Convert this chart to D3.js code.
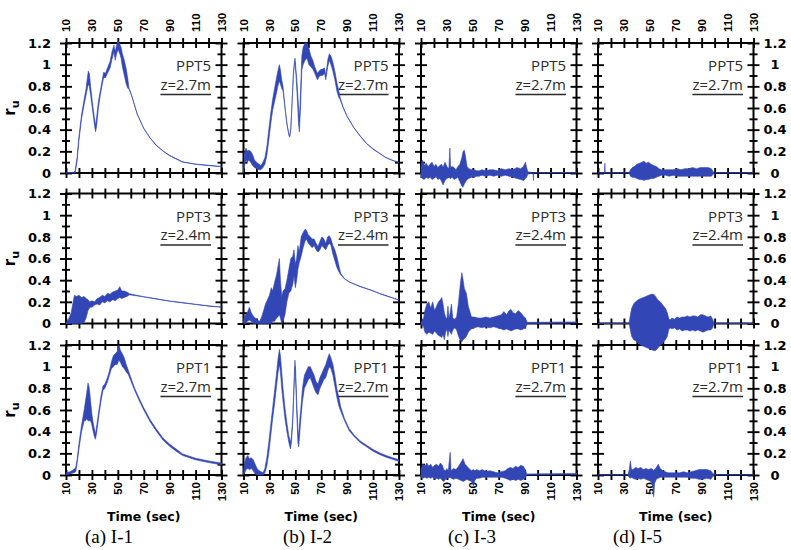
<!DOCTYPE html>
<html><head><meta charset="utf-8">
<script src="https://cdn.jsdelivr.net/npm/d3@7"></script>
<style>body{margin:0;background:#fff}</style>
</head><body><svg id="c" width="791" height="550"></svg>
<script>
// ---------- axis / label data ----------
const xTicks = [10,20,30,40,50,60,70,80,90,100,110,120,130];
const xLabels = [10,30,50,70,90,110,130];
const yMajor = [0,0.2,0.4,0.6,0.8,1.0,1.2];
const yMinor = [0.1,0.3,0.5,0.7,0.9,1.1];
const yLabels = ["0","0.2","0.4","0.6","0.8","1","1.2"];
const sensorNames = ["PPT5","PPT3","PPT1"];
const depthLabels = ["z=2.7m","z=2.4m","z=2.7m"];
const testCaptions = ["(a) I-1","(b) I-2","(c) I-3","(d) I-5"];

// ---------- series: [time (s), lower r_u, upper r_u] ----------
const I1_PPT5 = [[10,0,0.005],[16,0,0.005],[17,0,0.02],[18.5,0.1,0.14],[20,0.3,0.34],[22,0.5,0.54],[24,0.63,0.68],[25.5,0.72,0.78],[26.5,0.78,0.88],[27.2,0.82,0.94],[28,0.8,0.92],[29,0.72,0.8],[30.5,0.58,0.64],[32,0.44,0.5],[32.8,0.38,0.44],[33.5,0.42,0.5],[35,0.6,0.66],[36.5,0.72,0.76],[38,0.82,0.86],[39,0.88,0.93],[40.5,0.88,0.92],[42,0.92,0.97],[44,0.97,1.03],[45.5,1.05,1.12],[47,1.12,1.18],[48,1.04,1.12],[49,1.1,1.18],[50.2,1.14,1.22],[51.5,1.1,1.19],[52.5,1.06,1.16],[53.5,0.98,1.1],[55,0.9,1.04],[56.5,0.82,0.96],[57.8,0.78,0.86],[58.5,0.78,0.79],[61,0.7,0.705],[65,0.54,0.545],[70,0.41,0.413],[75,0.32,0.323],[80,0.25,0.253],[85,0.2,0.203],[90,0.16,0.163],[100,0.1,0.103],[110,0.08,0.083],[120,0.068,0.071],[130,0.058,0.061]];
const I1_PPT3 = [[10,0,0.01],[12,0,0.04],[14,0,0.1],[15.5,0,0.2],[16.5,0,0.26],[18,0,0.25],[20,0,0.26],[22,0,0.24],[24,0.01,0.25],[25.5,0.05,0.23],[27,0.12,0.22],[28.5,0.15,0.2],[30,0.15,0.21],[32,0.17,0.2],[34,0.18,0.23],[36,0.17,0.24],[38,0.2,0.26],[40,0.19,0.25],[42,0.21,0.28],[44,0.2,0.27],[46,0.22,0.29],[48,0.21,0.3],[50,0.23,0.31],[51.5,0.24,0.34],[53,0.23,0.3],[55,0.24,0.3],[57,0.25,0.29],[59,0.265,0.275],[70,0.245,0.248],[80,0.225,0.228],[90,0.205,0.208],[100,0.19,0.193],[110,0.175,0.178],[120,0.16,0.163],[130,0.15,0.153]];
const I1_PPT1 = [[10,0,0.02],[13,0.01,0.03],[16,0.02,0.05],[17.5,0.03,0.07],[18.5,0.1,0.14],[20,0.24,0.29],[22,0.4,0.46],[24,0.5,0.6],[25,0.5,0.68],[26,0.52,0.76],[27,0.5,0.85],[28,0.5,0.8],[29,0.5,0.68],[30,0.46,0.56],[31,0.4,0.48],[32,0.35,0.42],[32.8,0.33,0.38],[34,0.42,0.48],[35.5,0.56,0.61],[37,0.68,0.73],[38.5,0.78,0.82],[40,0.8,0.84],[42,0.86,0.9],[43.5,0.92,0.96],[45,0.98,1.04],[46.5,1.0,1.1],[48,1.02,1.12],[49.5,1.02,1.14],[50.8,1.06,1.2],[52,1.04,1.15],[53.5,1.0,1.12],[55,0.98,1.08],[56.5,0.95,1.02],[58,0.93,0.97],[60,0.87,0.9],[63,0.78,0.8],[66,0.7,0.72],[70,0.6,0.62],[75,0.49,0.51],[80,0.4,0.42],[85,0.32,0.34],[90,0.265,0.285],[95,0.22,0.24],[100,0.18,0.195],[110,0.14,0.155],[120,0.115,0.13],[130,0.095,0.11]];
const I2_PPT5 = [[10,0,0.05],[11,0.08,0.2],[12,0.12,0.23],[13,0.1,0.2],[14,0.12,0.21],[15.5,0.1,0.2],[17,0.07,0.17],[18.5,0.05,0.12],[20,0.04,0.1],[22,0.03,0.08],[23.5,0.03,0.07],[25,0.05,0.1],[26.5,0.08,0.14],[28,0.16,0.24],[29.5,0.3,0.4],[31,0.45,0.55],[32.5,0.58,0.68],[34,0.66,0.78],[35.5,0.74,0.88],[36.5,0.8,0.94],[37.7,0.85,1.0],[38.5,0.82,0.95],[39.5,0.78,0.86],[40.5,0.76,0.8],[42,0.6,0.61],[43.5,0.45,0.46],[45,0.35,0.36],[45.6,0.33,0.34],[46.5,0.4,0.41],[47.5,0.65,0.66],[48.5,0.9,0.92],[49.3,1.0,1.03],[49.8,1.02,1.06],[50.5,0.9,0.95],[51.5,0.7,0.8],[52.5,0.45,0.6],[53.1,0.38,0.48],[54,0.6,0.75],[55,0.95,1.08],[56,1.0,1.16],[57.5,1.04,1.2],[59,1.06,1.2],[60.5,1.0,1.15],[62,0.98,1.08],[63.5,0.96,1.04],[65,0.92,0.98],[67,0.86,0.92],[69,0.9,0.95],[71,0.9,0.96],[72.5,0.92,0.97],[73.5,0.86,0.9],[75,0.98,1.04],[76.2,1.04,1.1],[77.5,1.0,1.08],[79,0.94,1.02],[80.5,0.86,0.94],[82,0.76,0.84],[83.5,0.7,0.76],[84.5,0.68,0.7],[87,0.6,0.605],[90,0.52,0.523],[95,0.42,0.423],[100,0.34,0.343],[105,0.27,0.273],[110,0.22,0.223],[115,0.18,0.183],[120,0.14,0.143],[125,0.115,0.118],[130,0.095,0.098]];
const I2_PPT3 = [[10,0,0.04],[11.5,0,0.08],[13,0.02,0.1],[14.5,0.03,0.15],[16,0.02,0.1],[17.5,0,0.07],[19,0,0.05],[21,0,0.03],[22.5,0,0.02],[24,0,0.06],[25.5,0,0.12],[27,0,0.18],[28.5,0,0.22],[30,0,0.26],[31.5,0,0.33],[32.5,0.02,0.3],[34,0.02,0.38],[35.5,0.05,0.45],[36.5,0.06,0.52],[37.7,0.08,0.6],[38.5,0.05,0.4],[39.5,0,0.25],[40.5,0.02,0.3],[42,0.08,0.32],[43.5,0.2,0.4],[45,0.28,0.5],[46.5,0.3,0.6],[48,0.36,0.62],[49,0.44,0.68],[50,0.33,0.55],[51,0.4,0.6],[52,0.5,0.72],[53,0.56,0.66],[54.5,0.62,0.8],[56,0.7,0.84],[57.5,0.76,0.87],[58.5,0.78,0.86],[60,0.74,0.82],[61.5,0.72,0.8],[63,0.7,0.78],[64.5,0.72,0.78],[66,0.68,0.74],[67.5,0.66,0.71],[69,0.68,0.76],[70.5,0.72,0.8],[72,0.7,0.78],[73.5,0.68,0.74],[75,0.72,0.8],[76.2,0.74,0.81],[77.5,0.72,0.78],[79,0.64,0.72],[80.5,0.58,0.68],[82,0.52,0.62],[83.5,0.48,0.54],[85,0.45,0.465],[88,0.41,0.413],[92,0.38,0.383],[96,0.36,0.363],[100,0.34,0.343],[105,0.32,0.323],[110,0.3,0.303],[115,0.275,0.278],[120,0.255,0.258],[125,0.235,0.238],[130,0.215,0.218]];
const I2_PPT1 = [[10,0,0.03],[11,0.02,0.12],[12,0.05,0.16],[13.3,0.06,0.18],[14.5,0.05,0.15],[16,0.06,0.16],[17.5,0.04,0.14],[19,0.01,0.1],[20.5,0,0.06],[22,0,0.04],[23.5,0,0.03],[25,0,0.02],[26.5,0.02,0.06],[28,0.08,0.16],[29.5,0.2,0.3],[31,0.36,0.46],[32.5,0.52,0.62],[34,0.66,0.78],[35.5,0.82,0.94],[36.7,0.95,1.08],[37.7,1.02,1.16],[38.5,0.95,1.1],[39.5,0.8,0.95],[40.5,0.68,0.8],[42,0.52,0.62],[43.5,0.4,0.48],[45,0.3,0.36],[46.2,0.24,0.3],[47,0.3,0.36],[48,0.48,0.54],[49,0.8,0.86],[49.7,1.0,1.06],[50.3,0.85,0.95],[51,0.6,0.7],[52,0.3,0.42],[52.6,0.26,0.36],[53.5,0.4,0.52],[54.5,0.55,0.65],[55.5,0.68,0.8],[57,0.8,0.92],[58.5,0.84,0.96],[60,0.88,1.0],[61.5,0.9,1.0],[63,0.85,0.96],[64.5,0.8,0.92],[66,0.76,0.86],[67.5,0.74,0.84],[69,0.8,0.9],[70.5,0.84,0.94],[72,0.88,0.98],[73.5,0.9,1.02],[75,0.96,1.08],[76.2,1.0,1.12],[77.5,0.98,1.08],[79,0.92,1.02],[80.5,0.82,0.92],[82,0.72,0.8],[83.5,0.64,0.72],[85,0.59,0.63],[88,0.5,0.52],[91.5,0.41,0.43],[95,0.36,0.375],[100,0.3,0.315],[105,0.26,0.275],[110,0.22,0.235],[115,0.19,0.205],[120,0.165,0.18],[125,0.145,0.16],[130,0.125,0.14]];
const I3_PPT5 = [[10,-0.04,0.06],[11,-0.05,0.12],[12.5,-0.06,0.07],[14,-0.04,0.09],[15.5,-0.05,0.06],[17,-0.04,0.08],[18.5,-0.06,0.1],[20,-0.05,0.06],[21.5,-0.03,0.08],[23,-0.06,0.05],[24.5,-0.05,0.07],[26,-0.08,0.08],[27,-0.11,0.05],[28.5,-0.07,0.1],[30,-0.05,0.06],[31.5,-0.04,0.04],[32.3,-0.05,0.23],[32.8,-0.05,0.05],[34,-0.04,0.06],[35.5,-0.06,0.05],[37,-0.05,0.03],[38.5,-0.04,0.06],[40,-0.08,0.08],[41.5,-0.12,0.14],[42.5,-0.13,0.2],[43.5,-0.1,0.21],[44.5,-0.08,0.14],[45.5,-0.06,0.06],[47,-0.05,0.04],[49,-0.04,0.03],[51,-0.04,0.03],[53,-0.03,0.02],[55,-0.03,0.02],[57,-0.02,0.03],[60,-0.03,0.02],[63,-0.02,0.03],[66,-0.03,0.03],[69,-0.02,0.02],[72,-0.03,0.04],[75,-0.02,0.03],[78,-0.03,0.04],[81,-0.04,0.03],[84,-0.05,0.05],[87,-0.06,0.04],[89,-0.07,0.06],[90.6,-0.05,0.1],[91.5,-0.04,0.05],[92.5,-0.01,0.01],[96.5,0,0.003],[96.8,-0.07,0.003],[97.1,0,0.003],[130,0,0.005]];
const I3_PPT3 = [[10,-0.01,0.01],[12,-0.03,0.05],[13,-0.08,0.12],[14.5,-0.1,0.18],[16,-0.08,0.2],[17.5,-0.09,0.14],[19,-0.1,0.2],[20.5,-0.07,0.12],[22,-0.09,0.16],[23.5,-0.11,0.2],[25,-0.12,0.22],[26,-0.13,0.24],[27,-0.1,0.18],[28,-0.15,0.1],[29,-0.08,0.06],[30,-0.05,0.04],[30.8,-0.12,0.16],[31.5,-0.06,0.05],[32.5,-0.08,0.1],[33.5,-0.1,0.18],[34.5,-0.06,0.05],[36,-0.04,0.04],[37.5,-0.06,0.06],[39,-0.12,0.2],[40.5,-0.16,0.38],[41.5,-0.17,0.47],[42.5,-0.15,0.4],[43.5,-0.14,0.32],[45,-0.12,0.28],[46.5,-0.08,0.16],[48,-0.06,0.1],[49,-0.05,0.06],[51,-0.04,0.06],[54,-0.03,0.05],[57,-0.04,0.05],[60,-0.03,0.06],[63,-0.04,0.05],[66,-0.03,0.06],[69,-0.04,0.07],[72,-0.05,0.08],[74,-0.06,0.11],[76,-0.05,0.08],[78,-0.06,0.12],[79.5,-0.07,0.13],[81,-0.06,0.1],[83,-0.05,0.09],[85,-0.05,0.12],[87,-0.06,0.1],[89,-0.05,0.07],[90.5,-0.04,0.05],[92,0.0,0.01],[130,0.005,0.015]];
const I3_PPT1 = [[10,-0.02,0.06],[11.5,-0.03,0.1],[13,-0.02,0.08],[14.5,-0.03,0.11],[16,-0.02,0.08],[17.5,-0.03,0.1],[19,-0.02,0.07],[20.5,-0.04,0.09],[22,-0.03,0.1],[23.5,-0.04,0.08],[25,-0.03,0.11],[26.5,-0.05,0.09],[27.5,-0.06,0.05],[29,-0.04,0.04],[30,-0.03,0.06],[31,-0.03,0.03],[32.5,-0.02,0.21],[33.2,-0.03,0.04],[35,-0.04,0.06],[37,-0.03,0.05],[39,-0.04,0.08],[41,-0.05,0.12],[42.5,-0.06,0.15],[44,-0.05,0.1],[45.5,-0.04,0.08],[47,-0.05,0.06],[49,-0.06,0.04],[50.5,-0.1,0.05],[51.5,-0.05,0.04],[53,-0.03,0.05],[55,-0.03,0.04],[57.5,-0.02,0.05],[60,-0.02,0.03],[63,-0.02,0.04],[66,-0.02,0.03],[69,-0.02,0.02],[72,-0.02,0.03],[75,-0.03,0.04],[77,-0.04,0.06],[79,-0.05,0.07],[81,-0.04,0.06],[83,-0.05,0.08],[85,-0.04,0.07],[87,-0.05,0.09],[89,-0.04,0.08],[90.5,-0.03,0.05],[91.5,0,0.01],[130,0.005,0.015]];
const I5_PPT5 = [[10,0,0.003],[15,0,0.003],[15.3,0,0.09],[15.6,0,0.003],[34,0,0.003],[35,-0.03,0.03],[36.5,-0.04,0.05],[38,-0.04,0.06],[40,-0.05,0.08],[42,-0.06,0.09],[44,-0.06,0.1],[45.5,-0.07,0.11],[47,-0.06,0.09],[49,-0.06,0.1],[51,-0.05,0.08],[53,-0.05,0.07],[55,-0.04,0.06],[57,-0.03,0.04],[59,-0.02,0.03],[62,-0.02,0.03],[65,-0.03,0.03],[68,-0.02,0.03],[71,-0.03,0.04],[74,-0.03,0.03],[77,-0.03,0.04],[80,-0.03,0.04],[83,-0.03,0.05],[86,-0.03,0.04],[89,-0.03,0.05],[92,-0.03,0.05],[95,-0.03,0.05],[97.5,-0.03,0.04],[99,-0.01,0.01],[100,0,0.003],[130,0,0.003]];
const I5_PPT3 = [[10,0,0.003],[34,0,0.003],[35,-0.06,0.08],[36,-0.12,0.14],[37.5,-0.15,0.18],[39,-0.16,0.2],[41,-0.18,0.22],[43,-0.2,0.23],[45,-0.21,0.24],[47,-0.22,0.25],[49,-0.23,0.26],[51,-0.24,0.27],[53,-0.25,0.27],[54.5,-0.25,0.25],[56,-0.23,0.22],[58,-0.2,0.2],[60,-0.18,0.17],[62,-0.15,0.14],[63.5,-0.12,0.1],[64.5,-0.06,0.05],[65.5,-0.04,0.03],[67,-0.05,0.05],[69,-0.04,0.04],[71,-0.06,0.06],[73,-0.05,0.05],[75,-0.07,0.06],[77,-0.06,0.06],[79,-0.06,0.07],[81,-0.07,0.06],[83,-0.06,0.07],[85,-0.07,0.07],[87,-0.06,0.06],[89,-0.07,0.08],[91,-0.08,0.08],[93,-0.07,0.07],[95,-0.06,0.06],[97,-0.06,0.07],[98.5,-0.04,0.04],[99.5,0,0.003],[130,0,0.003]];
const I5_PPT1 = [[10,0,0.003],[33,0,0.003],[34,-0.02,0.04],[35,-0.03,0.13],[35.8,-0.02,0.05],[37,-0.03,0.05],[39,-0.04,0.07],[41,-0.03,0.06],[43,-0.04,0.07],[45,-0.03,0.05],[47,-0.04,0.06],[49,-0.05,0.05],[51,-0.06,0.06],[52.5,-0.12,0.05],[53,-0.2,0.04],[53.6,-0.08,0.05],[55,-0.04,0.07],[56.5,-0.03,0.1],[58,-0.02,0.06],[60,-0.02,0.04],[62,-0.02,0.03],[64,-0.02,0.02],[67,-0.02,0.02],[70,-0.02,0.02],[73,-0.02,0.02],[76,-0.02,0.03],[79,-0.02,0.02],[82,-0.03,0.03],[85,-0.03,0.04],[88,-0.04,0.05],[91,-0.04,0.05],[94,-0.03,0.05],[97,-0.04,0.04],[99,-0.01,0.01],[100,0,0.003],[130,0,0.003]];

const grid = [
  [I1_PPT5, I2_PPT5, I3_PPT5, I5_PPT5],
  [I1_PPT3, I2_PPT3, I3_PPT3, I5_PPT3],
  [I1_PPT1, I2_PPT1, I3_PPT1, I5_PPT1]
];

// ---------- layout ----------
const colX = [66, 243.5, 421, 598];
const rowY = [43, 193.5, 345];
const W = 155.5, H = 130;
const captionX = [85, 283, 448, 613];
const BLUE = "#3246b6";

const svg = d3.select("#c");
const gAxes = svg.append("g");
const gText = svg.append("g");
const gData = svg.append("g");

const tickFont = "'Liberation Sans', Arial, sans-serif";
const boldFont = "'DejaVu Sans', Verdana, sans-serif";

grid.forEach((row, r) => {
  row.forEach((series, c) => {
    const x0 = colX[c], y0 = rowY[r];
    const x = d3.scaleLinear().domain([10,130]).range([x0, x0+W]);
    const y = d3.scaleLinear().domain([0,1.2]).range([y0+H, y0]);

    gAxes.append("rect").attr("x", x0).attr("y", y0).attr("width", W).attr("height", H)
      .attr("fill", "none").attr("stroke", "#000").attr("stroke-width", 2);

    [[y0+H, d3.axisBottom], [y0, d3.axisTop]].forEach(([ty, ax]) => {
      const g = gAxes.append("g").attr("transform", `translate(0,${ty})`)
        .call(ax(x).tickValues(xTicks).tickSize(5).tickFormat(""));
      g.select(".domain").remove();
      g.selectAll(".tick line").attr("y1", -5).attr("y2", 5).attr("stroke", "#000").attr("stroke-width", 1.9);
    });
    [[x0, d3.axisLeft], [x0+W, d3.axisRight]].forEach(([tx, ax]) => {
      const gM = gAxes.append("g").attr("transform", `translate(${tx},0)`)
        .call(ax(y).tickValues(yMajor).tickSize(6).tickFormat(""));
      gM.select(".domain").remove();
      gM.selectAll(".tick line").attr("x1", -6).attr("x2", 6).attr("stroke", "#000").attr("stroke-width", 1.9);
      const gm = gAxes.append("g").attr("transform", `translate(${tx},0)`)
        .call(ax(y).tickValues(yMinor).tickSize(4).tickFormat(""));
      gm.select(".domain").remove();
      gm.selectAll(".tick line").attr("x1", -4).attr("x2", 4).attr("stroke", "#000").attr("stroke-width", 1.9);
    });

    if (r === 0) {
      xLabels.forEach(v => {
        gText.append("text").attr("transform", `translate(${x(v)},${y0-11}) rotate(-90)`)
          .attr("dy", "0.36em").attr("text-anchor", "start")
          .style("font", `bold 11.5px ${tickFont}`).text(v);
      });
    }
    if (r === 2) {
      xLabels.forEach(v => {
        gText.append("text").attr("transform", `translate(${x(v)},${y0+H+7}) rotate(-90)`)
          .attr("dy", "0.36em").attr("text-anchor", "end")
          .style("font", `bold 11.5px ${tickFont}`).text(v);
      });
      gText.append("text").attr("x", x0+W/2).attr("y", 521).attr("text-anchor", "middle")
        .style("font", `bold 12.5px ${boldFont}`).text("Time (sec)");
      gText.append("text").attr("x", captionX[c]).attr("y", 543)
        .style("font", `19px 'Liberation Serif', 'Times New Roman', serif`).text(testCaptions[c]);
    }
    if (c === 0) {
      yMajor.forEach((v, i) => {
        gText.append("text").attr("x", 51).attr("y", y(v)).attr("dy", "0.36em")
          .attr("text-anchor", "end").style("font", `bold 13px ${boldFont}`).text(yLabels[i]);
      });
      const t = gText.append("text").attr("transform", `translate(15,${y0+H/2}) rotate(-90)`)
        .attr("text-anchor", "middle").style("font", `bold 15px ${boldFont}`);
      t.append("tspan").text("r");
      t.append("tspan").attr("dy", 4).style("font-size", "11px").text("u");
    }
    if (c === 3) {
      yMajor.forEach((v, i) => {
        gText.append("text").attr("x", 775).attr("y", y(v)).attr("dy", "0.36em")
          .attr("text-anchor", "middle").style("font", `bold 13px ${boldFont}`).text(yLabels[i]);
      });
    }
    gText.append("text").attr("x", x0+W-10.5).attr("y", y0+28).attr("text-anchor", "end")
      .attr("fill", "#2b2b2b").style("font", `15px 'Open Sans', sans-serif`).text(sensorNames[r]);
    const zt = gText.append("text").attr("x", x0+W-10.5).attr("y", y0+46.5).attr("text-anchor", "end")
      .attr("fill", "#2b2b2b").style("font", `15px 'Open Sans', sans-serif`).text(depthLabels[r]);
    const bb = zt.node().getBBox();
    gText.append("line").attr("x1", bb.x).attr("x2", bb.x+bb.width)
      .attr("y1", y0+51.5).attr("y2", y0+51.5).attr("stroke", "#2b2b2b").attr("stroke-width", 1.3);

    const area = d3.area().x(d => x(d[0])).y0(d => y(d[1])).y1(d => y(d[2]));
    gData.append("path").datum(series).attr("d", area)
      .attr("fill", BLUE).attr("stroke", BLUE).attr("stroke-width", 0.6).attr("stroke-linejoin", "round");
  });
});
</script></body></html>
